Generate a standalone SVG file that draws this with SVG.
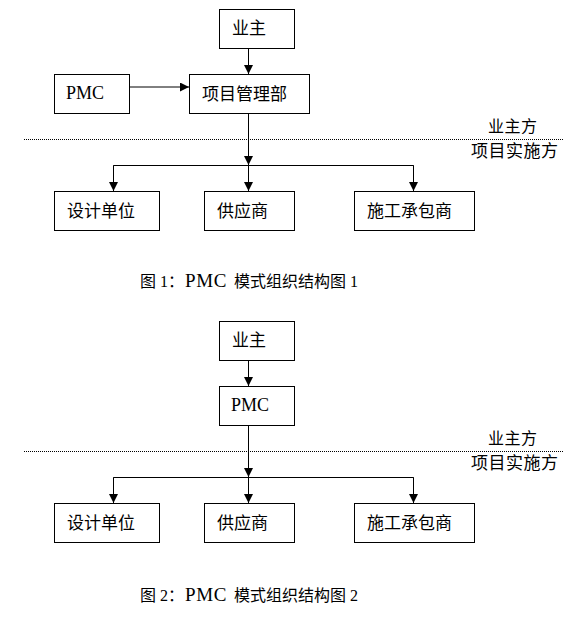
<svg xmlns="http://www.w3.org/2000/svg" width="583" height="624" viewBox="0 0 583 624">
<style>
  .box { fill: #fff; stroke: #000; stroke-width: 1; }
  .t { font-family: "Liberation Serif", "Noto Sans CJK SC", serif; font-size: 17px; fill: #000; }
  .lat { font-family: "Liberation Serif", serif; font-size: 18px; fill: #000; }
  .cap { font-family: "Liberation Serif", "Noto Sans CJK SC", serif; font-size: 16px; fill: #000; }
  .capl { font-family: "Liberation Serif", serif; font-size: 19px; letter-spacing: 0.6px; }
  .side1 { font-size: 16px; }
  .ln { stroke: #000; stroke-width: 1; fill: none; }
  .arr { stroke: #000; stroke-width: 1; fill: none; marker-end: url(#ah); }
  .dot { stroke: #000; stroke-width: 1; stroke-dasharray: 1 1; fill: none; }
</style>
<defs>
  <marker id="ah" markerUnits="userSpaceOnUse" markerWidth="9" markerHeight="9" refX="9" refY="4.5" orient="auto">
    <path d="M0,0 L9,4.5 L0,9 z" fill="#000"/>
  </marker>
</defs>
<rect width="583" height="624" fill="#fff"/>

<!-- Figure 1 -->
<g id="connectors1">
  <line class="arr" x1="248.5" y1="48.5" x2="248.5" y2="74"/>
  <line class="arr" x1="129.5" y1="87" x2="189" y2="87"/>
  <line class="arr" x1="248.5" y1="113.5" x2="248.5" y2="165"/>
  <polyline class="ln" points="113.5,191 113.5,165.5 413.5,165.5 413.5,191"/>
  <line class="arr" x1="113.5" y1="165.5" x2="113.5" y2="191"/>
  <line class="arr" x1="248.5" y1="165.5" x2="248.5" y2="191"/>
  <line class="arr" x1="413.5" y1="165.5" x2="413.5" y2="191"/>
  <line class="dot" x1="24" y1="139.5" x2="564" y2="139.5"/>
</g>
<g id="f1-owner"><rect class="box" x="219.5" y="9.5" width="75" height="39"/><text class="t" x="232" y="34">业主</text></g>
<g id="f1-pmc"><rect class="box" x="54.5" y="74.5" width="75" height="39"/><text class="lat" x="66" y="99">PMC</text></g>
<g id="f1-pmd"><rect class="box" x="189.5" y="74.5" width="120" height="39"/><text class="t" x="202" y="99.5">项目管理部</text></g>
<g id="f1-design"><rect class="box" x="54.5" y="191.5" width="105" height="39"/><text class="t" x="67" y="216.5">设计单位</text></g>
<g id="f1-supplier"><rect class="box" x="204.5" y="191.5" width="90" height="39"/><text class="t" x="217" y="216.5">供应商</text></g>
<g id="f1-contractor"><rect class="box" x="354.5" y="191.5" width="120" height="39"/><text class="t" x="367" y="216.5">施工承包商</text></g>
<g id="f1-labels">
  <text class="t side1" x="488" y="132" textLength="49">业主方</text>
  <text class="t" x="471" y="157" textLength="87">项目实施方</text>
</g>
<g id="caption1">
  <text class="cap" y="287"><tspan x="140">图 1：</tspan><tspan class="capl" x="185">PMC</tspan><tspan x="234">模式组织结构图 1</tspan></text>
</g>

<!-- Figure 2 -->
<g id="connectors2">
  <line class="arr" x1="248.5" y1="360.5" x2="248.5" y2="386"/>
  <line class="arr" x1="248.5" y1="425.5" x2="248.5" y2="477"/>
  <polyline class="ln" points="113.5,503 113.5,477.5 413.5,477.5 413.5,503"/>
  <line class="arr" x1="113.5" y1="477.5" x2="113.5" y2="503"/>
  <line class="arr" x1="248.5" y1="477.5" x2="248.5" y2="503"/>
  <line class="arr" x1="413.5" y1="477.5" x2="413.5" y2="503"/>
  <line class="dot" x1="24" y1="451.5" x2="564" y2="451.5"/>
</g>
<g id="f2-owner"><rect class="box" x="219.5" y="321.5" width="75" height="39"/><text class="t" x="232" y="346">业主</text></g>
<g id="f2-pmc"><rect class="box" x="219.5" y="386.5" width="75" height="39"/><text class="lat" x="231" y="411">PMC</text></g>
<g id="f2-design"><rect class="box" x="54.5" y="503.5" width="105" height="39"/><text class="t" x="67" y="528.5">设计单位</text></g>
<g id="f2-supplier"><rect class="box" x="204.5" y="503.5" width="90" height="39"/><text class="t" x="217" y="528.5">供应商</text></g>
<g id="f2-contractor"><rect class="box" x="354.5" y="503.5" width="120" height="39"/><text class="t" x="367" y="528.5">施工承包商</text></g>
<g id="f2-labels">
  <text class="t side1" x="488" y="444" textLength="49">业主方</text>
  <text class="t" x="471" y="469" textLength="87">项目实施方</text>
</g>
<g id="caption2">
  <text class="cap" y="601"><tspan x="140">图 2：</tspan><tspan class="capl" x="185">PMC</tspan><tspan x="234">模式组织结构图 2</tspan></text>
</g>
</svg>
